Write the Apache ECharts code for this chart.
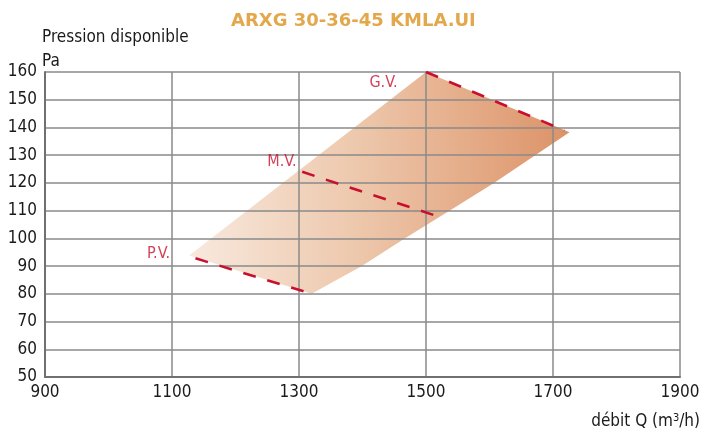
<!DOCTYPE html>
<html><head><meta charset="utf-8">
<script src="https://cdn.jsdelivr.net/npm/echarts@6/dist/echarts.min.js"></script>
<style>html,body{margin:0;padding:0;background:#fff}#c{width:716px;height:430px}</style>
</head><body><div id="c"></div>
<script>
const title = 'ARXG 30-36-45 KMLA.UI';
const xTicks = [900, 1100, 1300, 1500, 1700, 1900];
const yTicks = [50, 60, 70, 80, 90, 100, 110, 120, 130, 140, 150, 160];
// operating zone outline (m3/h, Pa)
const zoneX = [1127, 1500, 1726, 1672, 1607, 1537, 1467, 1399, 1320];
const zoneY = [93.8, 160, 138.3, 130, 120, 110, 100, 90, 80];
// speed curves
const pvX = [1137, 1320], pvY = [92.8, 80];
const mvX = [1305, 1527], mvY = [124, 107.3];
const gvX = [1500, 1718], gvY = [160, 138.9];
const curveNames = ['P.V.', 'M.V.', 'G.V.'];

const FONT = '"Liberation Sans Narrow", "DejaVu Sans Condensed", "Liberation Sans", sans-serif';
const RED = '#c8102e';
const TXT = '#1a1a1a';
const chart = echarts.init(document.getElementById('c'));

function lineSeries(xs, ys) {
  return {
    type: 'line', z: 5, symbol: 'none', silent: true, animation: false,
    lineStyle: { color: RED, width: 2.6, type: [13, 12] },
    data: xs.map((x, i) => [x, ys[i]])
  };
}
const labelOffsets = [[-20, -4], [0, -10], [-23, 11]];
const labelSeries = {
  type: 'scatter', z: 6, symbolSize: 1, itemStyle: { color: 'rgba(0,0,0,0)' }, silent: true, animation: false,
  data: [[pvX[0], pvY[0]], [mvX[0], mvY[0]], [gvX[0], gvY[0]]].map((v, i) => ({
    value: v,
    label: { show: true, formatter: curveNames[i], position: 'left', distance: 5, offset: labelOffsets[i],
      color: RED, fontFamily: FONT, fontSize: 16 }
  }))
};

chart.setOption({
  animation: false,
  title: { text: title, left: 226, top: 7,
    textStyle: { color: '#e3a84b', fontSize: 18, fontWeight: 'bold', fontFamily: '"DejaVu Sans", Lato, sans-serif' } },
  grid: { left: 45, right: 36, top: 72, bottom: 53, outerBoundsMode: 'none', containLabel: false },
  xAxis: {
    type: 'value', min: 900, max: 1900, interval: 200, z: 3,
    name: 'débit Q (m{sup|3}/h)', nameLocation: 'end', nameGap: 0, nameMoveOverlap: false,
    nameTextStyle: { color: TXT, fontFamily: FONT, fontSize: 17, align: 'right', verticalAlign: 'top', padding: [36, -20, 0, 0],
      rich: { sup: { fontSize: 11, verticalAlign: 'top', padding: [0, 0, 7, 0], fontFamily: FONT, color: TXT } } },
    axisLine: { show: true, lineStyle: { color: '#707070', width: 2 } },
    axisTick: { show: false },
    splitLine: { show: true, lineStyle: { color: '#8a8a8a', width: 1.5 } },
    axisLabel: { color: TXT, fontFamily: FONT, fontSize: 17, margin: 7,
      customValues: xTicks, formatter: v => String(v) }
  },
  yAxis: {
    type: 'value', min: 50, max: 160, interval: 10, z: 3,
    name: 'Pression disponible\nPa', nameLocation: 'end', nameGap: -2, nameMoveOverlap: false,
    nameTextStyle: { color: TXT, fontFamily: FONT, fontSize: 17, align: 'left', verticalAlign: 'bottom', lineHeight: 24, padding: [0, 0, 0, -3] },
    axisLine: { show: true, lineStyle: { color: '#707070', width: 2 } },
    axisTick: { show: false },
    splitLine: { show: true, lineStyle: { color: '#8a8a8a', width: 1.5 } },
    axisLabel: { color: TXT, fontFamily: FONT, fontSize: 17, margin: 8, customValues: yTicks, formatter: v => String(v) }
  },
  series: [
    {
      type: 'custom', z: 1, silent: true, animation: false,
      data: zoneX.map((x, i) => [x, zoneY[i]]),
      renderItem: function (params, api) {
        if (params.dataIndex !== 0) return null;
        const pts = zoneX.map((x, i) => api.coord([x, zoneY[i]]));
        return {
          type: 'polygon', shape: { points: pts },
          style: { fill: { type: 'linear', x: 0, y: 0, x2: 1, y2: 0,
            colorStops: [{ offset: 0, color: '#f8e9de' }, { offset: 0.45, color: '#edc7ab' }, { offset: 1, color: '#dc9267' }] } }
        };
      }
    },
    lineSeries(pvX, pvY),
    lineSeries(mvX, mvY),
    lineSeries(gvX, gvY),
    labelSeries
  ]
});
</script></body></html>
